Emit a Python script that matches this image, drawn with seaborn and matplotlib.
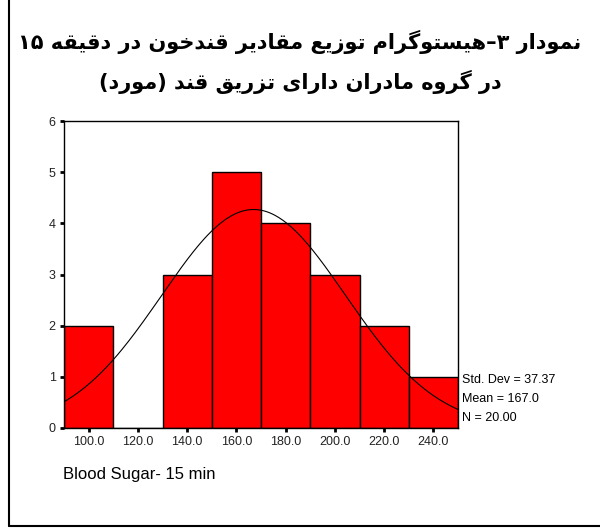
import re
import numpy as np
import seaborn as sns
import matplotlib
matplotlib.use('Agg')
import matplotlib.pyplot as plt
from matplotlib.lines import Line2D

# histogram data (SPSS output)
bin_edges = [90, 110, 130, 150, 170, 190, 210, 230, 250]
bin_centers = [100, 120, 140, 160, 180, 200, 220, 240]
counts = [2, 0, 3, 5, 4, 3, 2, 1]
tick_labels = ['100.0', '120.0', '140.0', '160.0', '180.0', '200.0', '220.0', '240.0']
std_dev = 37.37
mean = 167.0
n = 20

title1 = 'نمودار ۳–هیستوگرام توزیع مقادیر قندخون در دقیقه ۱۵'
title2 = 'در گروه مادران دارای تزریق قند (مورد)'

# matplotlib has no arabic shaping, so do it by hand (presentation forms)
RIGHT = {'ا': (0xFE8D, 0xFE8E), 'د': (0xFEA9, 0xFEAA), 'ر': (0xFEAD, 0xFEAE),
         'ز': (0xFEAF, 0xFEB0), 'و': (0xFEED, 0xFEEE)}
DUAL = {'ن': 0xFEE5, 'م': 0xFEE1, 'ه': 0xFEE9, 'س': 0xFEB1, 'ت': 0xFE95,
        'ع': 0xFEC9, 'ق': 0xFED5, 'خ': 0xFEA5, 'ی': 0xFBFC, 'گ': 0xFB92}


def rtl(s):
    out = []
    for i, c in enumerate(s):
        prev = s[i - 1] if i > 0 else ''
        nxt = s[i + 1] if i + 1 < len(s) else ''
        jp = prev in DUAL
        if c in DUAL:
            jn = nxt in DUAL or nxt in RIGHT
            k = 3 if (jp and jn) else 1 if jp else 2 if jn else 0
            out.append(chr(DUAL[c] + k))
        elif c in RIGHT:
            out.append(chr(RIGHT[c][1] if jp else RIGHT[c][0]))
        else:
            out.append(c)
    v = ''.join(out)[::-1]
    v = re.sub('[۰-۹]+', lambda m: m.group()[::-1], v)
    return v.translate(str.maketrans('()', ')('))


sns.set_style('white')
plt.rcParams['font.family'] = ['Liberation Sans', 'DejaVu Sans']
plt.rcParams['text.color'] = 'black'

fig = plt.figure(figsize=(6, 5.3), dpi=100)
ax = fig.add_axes([64 / 600, 102 / 530, 394 / 600, 307 / 530])

sns.histplot(x=bin_centers, weights=counts, bins=bin_edges, color='#ff0000',
             edgecolor='black', linewidth=1, alpha=1, ax=ax)

xs = np.linspace(90, 250, 300)
ys = n * 20 / (std_dev * np.sqrt(2 * np.pi)) * np.exp(-0.5 * ((xs - mean) / std_dev) ** 2)
sns.lineplot(x=xs, y=ys, color='black', linewidth=0.8, ax=ax)

ax.set_xlim(90, 250)
ax.set_ylim(0, 6)
ax.set_xticks(bin_centers)
ax.set_xticklabels(tick_labels)
ax.set_yticks(range(7))
ax.tick_params(axis='both', direction='out', length=3, width=2, labelsize=9,
               colors='black', pad=3, bottom=True, left=True)
ax.tick_params(axis='both', labelcolor='#222222')
ax.set_xlabel('')
ax.set_ylabel('')
for sp in ax.spines.values():
    sp.set_color('black')
    sp.set_linewidth(1)

ax.text(1.01, 0.155, f'Std. Dev = {std_dev:.2f}', transform=ax.transAxes,
        fontsize=9, va='center')
ax.text(1.01, 0.095, f'Mean = {mean:.1f}', transform=ax.transAxes,
        fontsize=9, va='center')
ax.text(1.01, 0.033, f'N = {n:.2f}', transform=ax.transAxes,
        fontsize=9, va='center')

fig.text(63 / 600, 1 - 475 / 530, 'Blood Sugar- 15 min', fontsize=12, va='center')

fig.text(0.5, 1 - 42 / 530, rtl(title1), fontsize=15, fontweight='bold',
         family=['DejaVu Sans'], ha='center', va='center', color='black')
fig.text(0.5, 1 - 82 / 530, rtl(title2), fontsize=15, fontweight='bold',
         family=['DejaVu Sans'], ha='center', va='center', color='black')

# outer frame (left and bottom edges visible)
fig.add_artist(Line2D([9 / 600, 9 / 600], [4 / 530, 1], color='black', lw=1.5))
fig.add_artist(Line2D([9 / 600, 1], [4 / 530, 4 / 530], color='black', lw=1.5))

fig.savefig('out.png', dpi=100)
